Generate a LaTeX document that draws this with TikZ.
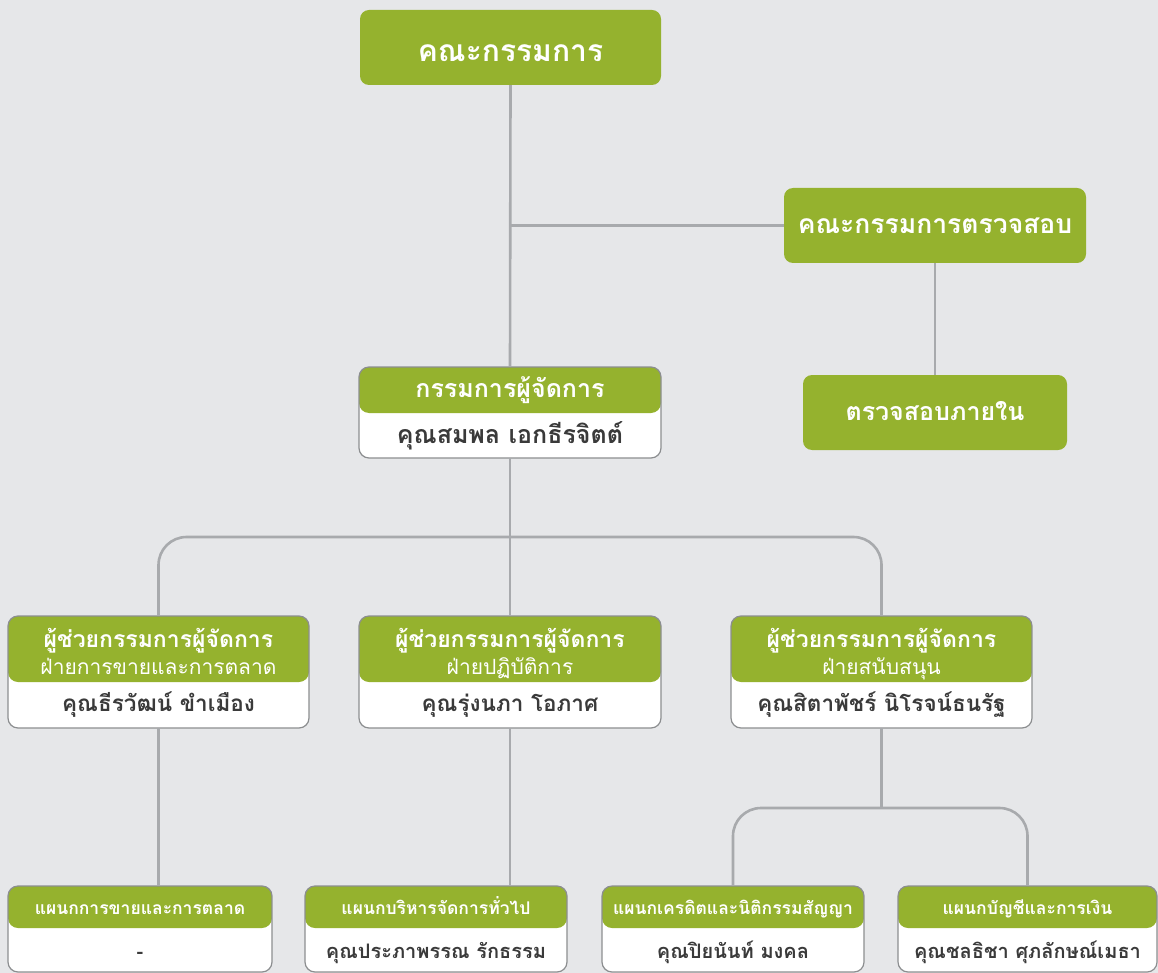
\documentclass[tikz,border=0pt]{standalone}
\usepackage{fontspec}
\newfontfamily\thaifont[Script=Thai]{Loma}
\definecolor{bg}{HTML}{E6E7E9}
\definecolor{leaf}{HTML}{95B22E}
\definecolor{wirec}{HTML}{A8AAAD}
\definecolor{rim}{HTML}{8C8E90}
\definecolor{ink}{HTML}{3A3A3A}
\tikzset{
  plain/.style={fill=leaf, rounded corners=9pt, inner sep=0pt},
  twobox/.style={fill=white, rounded corners=10pt, inner sep=0pt,
    path picture={\fill[leaf] (path picture bounding box.north west) rectangle ([yshift=-#1]path picture bounding box.north east);},
    postaction={draw=rim, line width=1.2pt}},
  wire/.style={draw=wirec, line width=2.6pt},
  big/.style={anchor=base, inner sep=0pt, text=white, font=\thaifont\bfseries\fontsize{#1}{#1}\selectfont},
  head/.style={anchor=base, inner sep=0pt, text=white, font=\thaifont\bfseries\fontsize{#1}{#1}\selectfont},
  sub/.style={anchor=base, inner sep=0pt, text=white, font=\thaifont\fontsize{21}{21}\selectfont},
  who/.style={anchor=base, inner sep=0pt, text=ink, font=\thaifont\bfseries\fontsize{#1}{#1}\selectfont}
}
\begin{document}
\begin{tikzpicture}[x=1pt,y=-1pt]
\fill[bg] (0,0) rectangle (1158,973);
\useasboundingbox (0,0) rectangle (1158,973);

% board and audit
\node[plain, minimum width=301pt, minimum height=75pt] (board) at (510.5,47.5) {};
\node[big=30] (boardt) at (510.5,62) {คณะกรรมการ};
\node[plain, minimum width=302pt, minimum height=75pt] (audit) at (935,225.5) {};
\node[big=26.5] (auditt) at (935,234) {คณะกรรมการตรวจสอบ};
\node[plain, minimum width=264pt, minimum height=75pt] (ia) at (935,412.5) {};
\node[big=25] (iat) at (935,420) {ตรวจสอบภายใน};

% managing director
\node[twobox=46pt, minimum width=302pt, minimum height=91pt] (md) at (510,412.5) {};
\node[head=25] (mdt) at (510,397) {กรรมการผู้จัดการ};
\node[who=25] (mdn) at (510,443) {คุณสมพล เอกธีรจิตต์};

% assistants
\node[twobox=66pt, minimum width=301pt, minimum height=112pt] (sa) at (158.5,672) {};
\node[head=23] (sat) at (158.5,647) {ผู้ช่วยกรรมการผู้จัดการ};
\node[sub] (sas) at (158.5,674) {ฝ่ายการขายและการตลาด};
\node[who=22.5] (san) at (158.5,711) {คุณธีรวัฒน์ ขำเมือง};
\node[twobox=66pt, minimum width=302pt, minimum height=112pt] (so) at (510,672) {};
\node[head=23] (sot) at (510,647) {ผู้ช่วยกรรมการผู้จัดการ};
\node[sub] (sos) at (510,674) {ฝ่ายปฏิบัติการ};
\node[who=22.5] (son) at (510,711) {คุณรุ่งนภา โอภาศ};
\node[twobox=66pt, minimum width=301pt, minimum height=112pt] (ss) at (881.5,672) {};
\node[head=23] (sst) at (881.5,647) {ผู้ช่วยกรรมการผู้จัดการ};
\node[sub] (sss) at (881.5,674) {ฝ่ายสนับสนุน};
\node[who=22.5] (ssn) at (881.5,711) {คุณสิตาพัชร์ นิโรจน์ธนรัฐ};

% departments
\node[twobox=42pt, minimum width=264pt, minimum height=86pt] (da) at (140,929) {};
\node[head=17.5] (dat) at (140,914) {แผนกการขายและการตลาด};
\node[who=20] (dan) at (140,958) {-};
\node[twobox=42pt, minimum width=262pt, minimum height=86pt] (db) at (436,929) {};
\node[head=17.5] (dbt) at (436,914) {แผนกบริหารจัดการทั่วไป};
\node[who=20] (dbn) at (436,958) {คุณประภาพรรณ รักธรรม};
\node[twobox=42pt, minimum width=262pt, minimum height=86pt] (dc) at (733,929) {};
\node[head=17.5] (dct) at (733,914) {แผนกเครดิตและนิติกรรมสัญญา};
\node[who=20] (dcn) at (733,958) {คุณปิยนันท์ มงคล};
\node[twobox=42pt, minimum width=259pt, minimum height=86pt] (dd) at (1027.5,929) {};
\node[head=17.5] (ddt) at (1027.5,914) {แผนกบัญชีและการเงิน};
\node[who=20] (ddn) at (1027.5,958) {คุณชลธิชา ศุภลักษณ์เมธา};

% connectors
\coordinate (bus1) at (510,537);
\coordinate (bus2) at (881.5,808);
\draw[wire] (board.south) -- (md.north);
\draw[wire] (board.south |- audit.west) -- (audit.west);
\draw[wire] (audit.south) -- (ia.north);
\draw[wire] (md.south) -- (so.north);
\draw[wire, rounded corners=28pt] (sa.north) -- (sa.north |- bus1) -- (ss.north |- bus1) -- (ss.north);
\draw[wire] (sa.south) -- (sa.south |- da.north);
\draw[wire] (so.south) -- (so.south |- db.north);
\draw[wire] (ss.south) -- (bus2);
\draw[wire, rounded corners=28pt] (dc.north) -- (dc.north |- bus2) -- (dd.north |- bus2) -- (dd.north);
\end{tikzpicture}
\end{document}
